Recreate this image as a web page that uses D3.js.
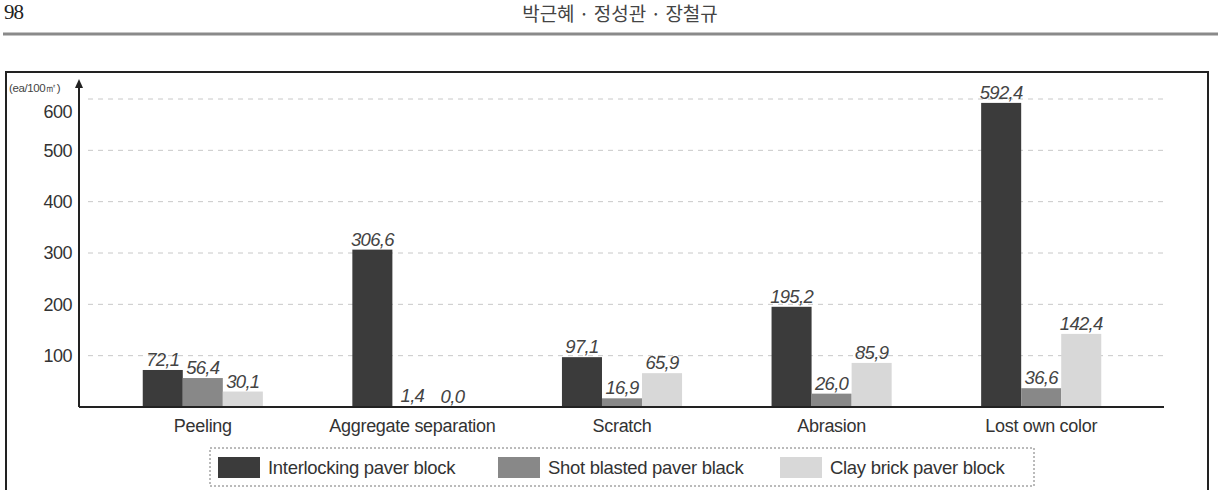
<!DOCTYPE html>
<html>
<head>
<meta charset="utf-8">
<script src="https://cdn.jsdelivr.net/npm/d3@7"></script>
<style>
  body { margin: 0; background: #fff; }
  svg { display: block; }
</style>
</head>
<body>
<div id="vis"></div>
<script>
const width = 1221;
const height = 490;

const categories = ["Peeling", "Aggregate separation", "Scratch", "Abrasion", "Lost own color"];
const seriesNames = ["Interlocking paver block", "Shot blasted paver black", "Clay brick paver block"];
const interlocking = [72.1, 306.6, 97.1, 195.2, 592.4];
const shotBlasted = [56.4, 1.4, 16.9, 26.0, 36.6];
const clayBrick = [30.1, 0.0, 65.9, 85.9, 142.4];
const yTicks = [100, 200, 300, 400, 500, 600];
const colors = ["#3b3b3b", "#888888", "#d8d8d8"];

const series = [interlocking, shotBlasted, clayBrick];

const svg = d3.select("#vis")
  .append("svg")
  .attr("width", width)
  .attr("height", height);

// page header
svg.append("text")
  .attr("x", 4).attr("y", 19)
  .style("font-family", "'Liberation Serif', serif")
  .style("font-size", "21px")
  .style("letter-spacing", "-1px")
  .attr("fill", "#222")
  .text("98");

svg.append("text")
  .attr("x", 620).attr("y", 21)
  .attr("text-anchor", "middle")
  .style("font-family", "'Noto Sans CJK KR', sans-serif")
  .style("font-size", "19px")
  .attr("fill", "#444")
  .text("박근혜 · 정성관 · 장철규");

svg.append("line")
  .attr("x1", 3).attr("x2", 1218)
  .attr("y1", 34).attr("y2", 34)
  .attr("stroke", "#8a8a8a")
  .attr("stroke-width", 3);

// chart frame
svg.append("rect")
  .attr("x", 6).attr("y", 72)
  .attr("width", 1202).attr("height", 430)
  .attr("fill", "none")
  .attr("stroke", "#222")
  .attr("stroke-width", 2);

// scales
const x0 = d3.scaleBand()
  .domain(categories)
  .range([98, 1146])
  .paddingInner(0.427)
  .paddingOuter(0.2135);

const x1 = d3.scaleBand()
  .domain(d3.range(series.length))
  .range([0, x0.bandwidth()]);

const y = d3.scaleLinear()
  .domain([0, 600])
  .range([407, 99]);

const axisX = 79;

// dashed gridlines
svg.append("g")
  .selectAll("line")
  .data(yTicks)
  .join("line")
  .attr("x1", 88).attr("x2", 1165)
  .attr("y1", d => y(d)).attr("y2", d => y(d))
  .attr("stroke", "#c8c8c8")
  .attr("stroke-width", 1)
  .attr("stroke-dasharray", "5,5");

// y axis via d3 axis, styled to match
const yAxis = svg.append("g")
  .attr("transform", `translate(${axisX},0)`)
  .call(d3.axisLeft(y).tickValues(yTicks).tickSize(0).tickPadding(7));

yAxis.select(".domain").remove();
yAxis.selectAll("text")
  .style("font-family", "'Liberation Sans', Arial, sans-serif")
  .style("font-size", "18px")
  .style("letter-spacing", "-0.5px")
  .attr("fill", "#333");
// top label sits a little below its gridline, under the unit label
yAxis.selectAll(".tick").filter(d => d === 600).select("text").attr("dy", "1.05em");

svg.append("line")
  .attr("x1", axisX).attr("x2", axisX)
  .attr("y1", 86).attr("y2", y(0))
  .attr("stroke", "#222")
  .attr("stroke-width", 2);

svg.append("path")
  .attr("d", `M${axisX - 4},${88} L${axisX},${79} L${axisX + 4},${88} Z`)
  .attr("fill", "#222");

svg.append("text")
  .attr("x", 9).attr("y", 92)
  .style("font-family", "'Liberation Sans', Arial, sans-serif")
  .style("font-size", "11.5px")
  .style("letter-spacing", "-0.4px")
  .attr("fill", "#444")
  .text("(ea/100㎡)");

// bars
const groups = svg.append("g")
  .selectAll("g")
  .data(categories)
  .join("g")
  .attr("transform", d => `translate(${x0(d)},0)`);

groups.selectAll("rect")
  .data((d, i) => series.map((s, k) => ({ k, v: s[i] })))
  .join("rect")
  .attr("x", d => x1(d.k))
  .attr("width", x1.bandwidth())
  .attr("y", d => y(d.v))
  .attr("height", d => y(0) - y(d.v))
  .attr("fill", d => colors[d.k]);

groups.selectAll("text")
  .data((d, i) => series.map((s, k) => ({ k, v: s[i] })))
  .join("text")
  .attr("x", d => x1(d.k) + x1.bandwidth() / 2)
  .attr("y", d => y(d.v) - 4)
  .attr("text-anchor", "middle")
  .style("font-family", "'Liberation Sans', Arial, sans-serif")
  .style("font-size", "18.5px")
  .style("font-style", "italic")
  .style("letter-spacing", "-0.7px")
  .attr("fill", "#444")
  .text(d => d.v.toFixed(1).replace(".", ","));

// x axis baseline
svg.append("line")
  .attr("x1", axisX).attr("x2", 1164)
  .attr("y1", y(0)).attr("y2", y(0))
  .attr("stroke", "#222")
  .attr("stroke-width", 2);

const xAxis = svg.append("g")
  .attr("transform", `translate(0,${y(0)})`)
  .call(d3.axisBottom(x0).tickSize(0).tickPadding(12));
xAxis.select(".domain").remove();
xAxis.selectAll("text")
  .style("font-family", "'Liberation Sans', Arial, sans-serif")
  .style("font-size", "18px")
  .style("letter-spacing", "-0.3px")
  .attr("fill", "#333");

// legend
svg.append("rect")
  .attr("x", 210).attr("y", 448)
  .attr("width", 824).attr("height", 38)
  .attr("fill", "none")
  .attr("stroke", "#777")
  .attr("stroke-width", 1)
  .attr("stroke-dasharray", "2,2");

const legendX = [218, 498, 780];
const legend = svg.append("g")
  .selectAll("g")
  .data(seriesNames)
  .join("g")
  .attr("transform", (d, i) => `translate(${legendX[i]},457)`);

legend.append("rect")
  .attr("width", 42).attr("height", 21)
  .attr("fill", (d, i) => colors[i]);

legend.append("text")
  .attr("x", 50).attr("y", 17)
  .style("font-family", "'Liberation Sans', Arial, sans-serif")
  .style("font-size", "18.5px")
  .style("letter-spacing", "-0.3px")
  .attr("fill", "#333")
  .text(d => d);
</script>
</body>
</html>
